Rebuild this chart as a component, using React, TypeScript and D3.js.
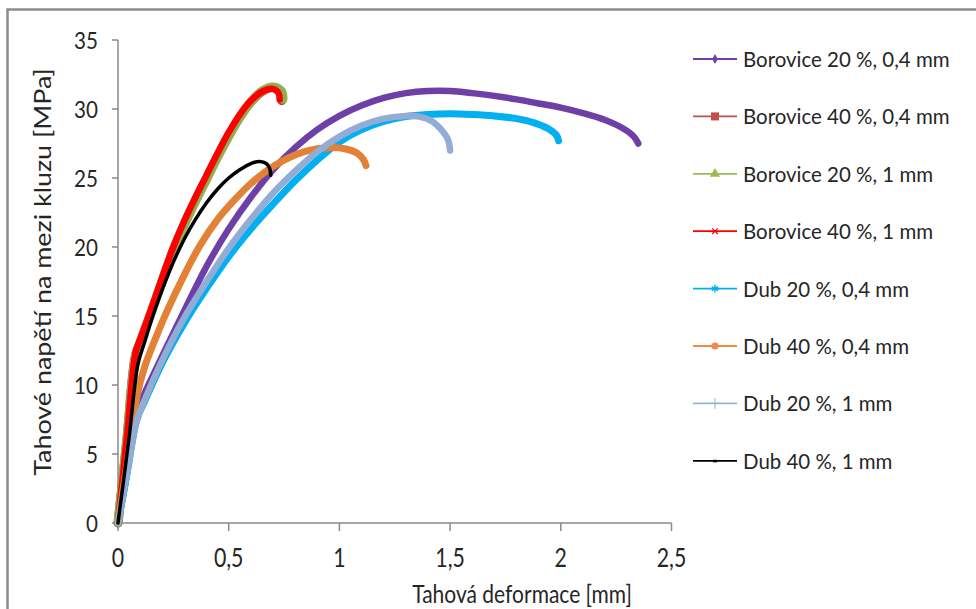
import React from "react";
import * as d3 from "d3";

const xTicks = [0, 0.5, 1, 1.5, 2, 2.5];
const yTicks = [0, 5, 10, 15, 20, 25, 30, 35];

const seriesNames = [
  "Borovice 20 %, 0,4 mm",
  "Borovice 40 %, 0,4 mm",
  "Borovice 20 %, 1 mm",
  "Borovice 40 %, 1 mm",
  "Dub 20 %, 0,4 mm",
  "Dub 40 %, 0,4 mm",
  "Dub 20 %, 1 mm",
  "Dub 40 %, 1 mm",
];

const borovice20_04: [number, number][] = [
  [0, 0], [0.03, 2.6], [0.06, 5.6], [0.09, 8.3], [0.12, 9.4], [0.2, 12.1], [0.3, 15.4],
  [0.4, 18.6], [0.5, 21.3], [0.6, 23.6], [0.7, 25.6], [0.8, 27.2], [0.9, 28.5],
  [1.0, 29.5], [1.1, 30.25], [1.2, 30.8], [1.3, 31.15], [1.4, 31.3], [1.5, 31.3],
  [1.6, 31.15], [1.7, 30.95], [1.8, 30.7], [1.9, 30.4], [2.0, 30.1], [2.1, 29.7],
  [2.2, 29.2], [2.28, 28.6], [2.33, 28.0], [2.35, 27.5],
];
const borovice40_04: [number, number][] = [
  [0, 0], [0.04, 6.0], [0.077, 12.0], [0.1, 13.1], [0.15, 15.3], [0.2, 17.6], [0.25, 19.8],
  [0.3, 21.7], [0.35, 23.4], [0.4, 25.0], [0.45, 26.6], [0.5, 28.1], [0.55, 29.4],
  [0.6, 30.5], [0.65, 31.25], [0.7, 31.55], [0.735, 31.25], [0.74, 30.6],
];
const borovice20_1: [number, number][] = [
  [0, 0], [0.04, 6.1], [0.08, 12.2], [0.1, 13.1], [0.15, 15.2], [0.2, 17.5], [0.25, 19.7],
  [0.3, 21.6], [0.35, 23.3], [0.4, 24.9], [0.45, 26.5], [0.5, 28.0], [0.55, 29.4],
  [0.6, 30.5], [0.65, 31.3], [0.7, 31.6], [0.738, 31.3], [0.745, 30.7],
];
const borovice40_1: [number, number][] = [
  [0, 0], [0.04, 6.2], [0.08, 12.4], [0.1, 13.3], [0.15, 15.5], [0.2, 17.8], [0.25, 20.0],
  [0.3, 21.9], [0.35, 23.6], [0.4, 25.2], [0.45, 26.8], [0.5, 28.3], [0.55, 29.6],
  [0.6, 30.6], [0.65, 31.25], [0.7, 31.45], [0.725, 31.15], [0.73, 30.7],
];
const dub20_04: [number, number][] = [
  [0, 0], [0.04, 3.5], [0.085, 7.5], [0.12, 8.8], [0.2, 11.6], [0.3, 14.5], [0.4, 17.0],
  [0.5, 19.3], [0.6, 21.3], [0.7, 23.1], [0.8, 24.8], [0.9, 26.3], [1.0, 27.6],
  [1.1, 28.5], [1.2, 29.1], [1.3, 29.45], [1.4, 29.6], [1.5, 29.65], [1.6, 29.6],
  [1.7, 29.5], [1.8, 29.3], [1.88, 29.0], [1.94, 28.6], [1.98, 28.1], [1.99, 27.7],
];
const dub40_04: [number, number][] = [
  [0, 0], [0.04, 4.2], [0.09, 9.5], [0.12, 11.3], [0.17, 13.4], [0.22, 15.3], [0.3, 18.0],
  [0.37, 20.1], [0.45, 22.0], [0.52, 23.3], [0.6, 24.6], [0.67, 25.5], [0.75, 26.3],
  [0.85, 26.95], [0.95, 27.2], [1.03, 27.1], [1.08, 26.8], [1.11, 26.3], [1.12, 25.9],
];
const dub20_1: [number, number][] = [
  [0, 0], [0.04, 3.5], [0.085, 7.4], [0.12, 8.9], [0.2, 11.8], [0.3, 14.9], [0.4, 17.5],
  [0.5, 19.9], [0.6, 22.0], [0.7, 23.9], [0.8, 25.5], [0.9, 26.9], [1.0, 28.0],
  [1.1, 28.8], [1.2, 29.3], [1.3, 29.5], [1.36, 29.45], [1.42, 29.1], [1.46, 28.5],
  [1.49, 27.8], [1.5, 27.0],
];
const dub40_1: [number, number][] = [
  [0, 0], [0.05, 6.2], [0.09, 11.5], [0.12, 13.1], [0.17, 15.6], [0.25, 18.9], [0.3, 20.6],
  [0.35, 22.0], [0.4, 23.2], [0.45, 24.2], [0.5, 25.0], [0.55, 25.6], [0.6, 26.05],
  [0.64, 26.2], [0.67, 26.05], [0.685, 25.7], [0.69, 25.2],
];

const allSeries = [
  borovice20_04, borovice40_04, borovice20_1, borovice40_1,
  dub20_04, dub40_04, dub20_1, dub40_1,
];

const lineColors = ["#6E3FA6", "#B8474A", "#8DB14E", "#FF0000", "#00B0F0", "#E38236", "#93ACD5", "#000000"];
const legendColors = ["#7040A8", "#C0504D", "#9BBB59", "#FF0000", "#00B0F0", "#F08A45", "#95B3D7", "#000000"];
const lineWidths = [6.5, 9, 9, 6.5, 7, 7, 6.5, 3.5];

const W = 976;
const H = 609;
const left = 118;
const right = 671.5;
const top = 40;
const bottom = 523;

const FONT = "Lato, 'Open Sans', sans-serif";

function Txt(props: {
  x: number; y: number; size: number; anchor?: string; sx?: number; rot?: number;
  children: React.ReactNode; fill?: string;
}) {
  const { x, y, size, anchor = "start", sx = 0.84, rot = 0, children, fill = "#262626" } = props;
  return (
    <text
      transform={`translate(${x},${y}) rotate(${rot}) scale(${sx},1)`}
      fontFamily={FONT}
      fontSize={size}
      textAnchor={anchor}
      fill={fill}
    >
      {children}
    </text>
  );
}

function LegendMarker({ i, cx, cy }: { i: number; cx: number; cy: number }) {
  const c = legendColors[i];
  const tr = `translate(${cx},${cy})`;
  switch (i) {
    case 0:
      return <path transform={tr} d={d3.symbol(d3.symbolDiamond, 28)()!} fill={c} />;
    case 1:
      return <path transform={tr} d={d3.symbol(d3.symbolSquare, 64)()!} fill={c} />;
    case 2:
      return <path transform={tr} d={d3.symbol(d3.symbolTriangle, 45)()!} fill={c} />;
    case 3:
      return <path transform={tr} d={d3.symbol(d3.symbolTimes, 22)()!} stroke={c} strokeWidth={1.2} fill="none" />;
    case 4:
      return <path transform={tr} d={d3.symbol(d3.symbolAsterisk, 40)()!} stroke={c} strokeWidth={1.5} fill="none" />;
    case 5:
      return <path transform={tr} d={d3.symbol(d3.symbolCircle, 40)()!} fill={c} />;
    case 6:
      return <path transform={tr} d={d3.symbol(d3.symbolPlus, 40)()!} stroke={c} strokeWidth={1} fill="none" />;
    default:
      return <rect x={cx - 2} y={cy - 1} width={4} height={2.5} fill={c} />;
  }
}

export default function App() {
  const x = d3.scaleLinear().domain([0, 2.5]).range([left, right]);
  const y = d3.scaleLinear().domain([0, 35]).range([bottom, top]);
  const line = d3
    .line<[number, number]>()
    .x((d) => x(d[0]))
    .y((d) => y(d[1]))
    .curve(d3.curveCatmullRom.alpha(0.5));
  const fmt = (v: number) => String(v).replace(".", ",");
  const axisColor = "#8a8a8a";

  const legendX = 693;
  const legendY0 = 59;
  const legendStep = 57.4;

  return (
    <svg
      width={W}
      height={H}
      style={{ position: "absolute", left: 0, top: 0, background: "#fff" }}
    >
      <rect x={0} y={0} width={W} height={H} fill="#fff" />
      <rect x={7.5} y={9.5} width={W + 20} height={H + 20} fill="none" stroke="#8c8c8c" strokeWidth={2.5} />

      {/* axes */}
      <line x1={left} x2={left} y1={top} y2={bottom} stroke={axisColor} strokeWidth={1.5} />
      <line x1={left} x2={right} y1={bottom} y2={bottom} stroke={axisColor} strokeWidth={1.5} />
      {yTicks.map((t) => (
        <g key={"y" + t}>
          <line x1={left - 6} x2={left} y1={y(t)} y2={y(t)} stroke={axisColor} strokeWidth={1.5} />
          <Txt x={98} y={y(t) + 8.5} size={24} anchor="end" sx={0.86}>
            {fmt(t)}
          </Txt>
        </g>
      ))}
      {xTicks.map((t) => (
        <g key={"x" + t}>
          <line x1={x(t)} x2={x(t)} y1={bottom} y2={bottom + 8} stroke={axisColor} strokeWidth={1.5} />
          <Txt x={x(t)} y={567} size={26} anchor="middle" sx={0.82}>
            {fmt(t)}
          </Txt>
        </g>
      ))}

      <Txt x={522} y={603} size={25} anchor="middle" sx={0.84}>
        Tahová deformace [mm]
      </Txt>
      <Txt x={51} y={272} size={23} anchor="middle" sx={1.17} rot={-90}>
        Tahové napětí na mezi kluzu [MPa]
      </Txt>

      {/* series */}
      {allSeries.map((s, i) => (
        <path
          key={"s" + i}
          d={line(s)!}
          fill="none"
          stroke={lineColors[i]}
          strokeWidth={lineWidths[i]}
          strokeLinejoin="round"
          strokeLinecap="round"
        />
      ))}

      {/* legend */}
      {seriesNames.map((name, i) => {
        const cy = legendY0 + i * legendStep;
        return (
          <g key={"l" + i}>
            <line x1={legendX} x2={legendX + 44} y1={cy} y2={cy} stroke={legendColors[i]} strokeWidth={1.8} />
            <LegendMarker i={i} cx={legendX + 22} cy={cy} />
            <Txt x={legendX + 50} y={cy + 8} size={22} sx={0.93}>
              {name}
            </Txt>
          </g>
        );
      })}
    </svg>
  );
}
